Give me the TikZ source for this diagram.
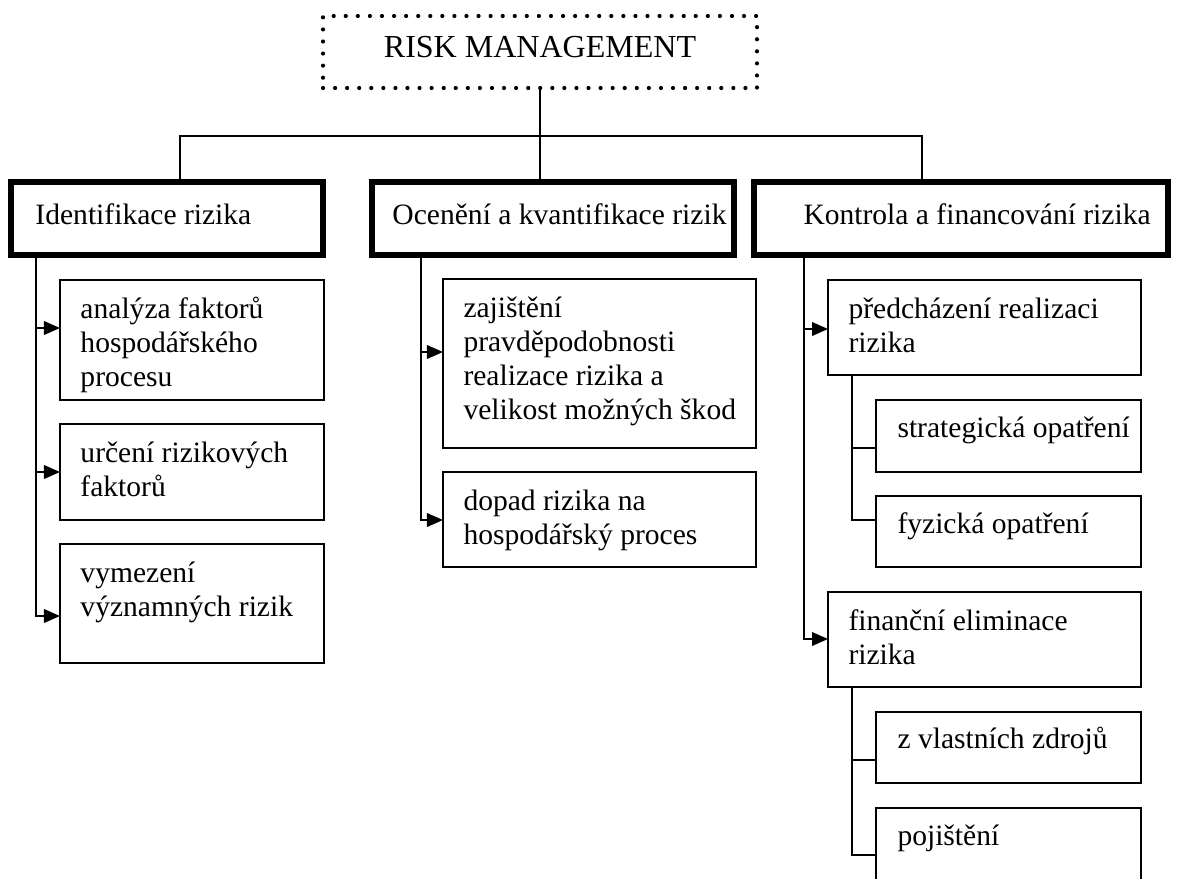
\documentclass[tikz,border=0pt]{standalone}
\usepackage{fontspec}
\setmainfont{Liberation Serif}
\usetikzlibrary{arrows.meta}
\tikzset{
  wh/.style 2 args={minimum width=#1*0.406pt, minimum height=#2*0.406pt},
  topbox/.style={draw, line width=1.7pt, dash pattern=on 0pt off 4.9pt, line cap=round, inner sep=0pt, outer sep=0pt, anchor=north west},
  headbox/.style={draw, line width=2.4pt, inner sep=0pt, outer sep=0pt, anchor=north west},
  itembox/.style={draw, line width=0.9pt, inner sep=0pt, outer sep=0pt, anchor=north west},
  txt/.style={anchor=base west, align=left, inner sep=0pt, font=\fontsize{12pt}{13.8pt}\selectfont},
  wire/.style={line width=0.8pt},
  feed/.style={wire, -{Triangle[length=6.5pt, width=5.5pt]}},
}
\begin{document}
\begin{tikzpicture}[x=0.406pt, y=-0.406pt]
\useasboundingbox (0,0) rectangle (1179,878);
% top
\node[topbox, wh={434}{72}] (risk) at (323,16) {};
\node[txt, anchor=base, font=\fontsize{13pt}{15pt}\selectfont] (riskt) at (540,58) {RISK MANAGEMENT};
% headings
\node[headbox, wh={312}{73}] (ident) at (11,182) {};
\node[txt] (identt) at (35,224) {Identifikace rizika};
\node[headbox, wh={362}{73}] (ocen) at (372,182) {};
\node[txt] (ocent) at (392,224) {Ocenění a kvantifikace rizik};
\node[headbox, wh={414}{73}] (kontr) at (754,182) {};
\node[txt] (kontrt) at (803,224) {Kontrola a financování rizika};
% column 1 (text placed at baseline of last line)
\node[itembox, wh={264}{120}] (ana) at (60,280) {};
\node[txt] (anat) at (80,386) {analýza faktorů\\hospodářského\\procesu};
\node[itembox, wh={264}{96}] (urc) at (60,424) {};
\node[txt] (urct) at (80,496) {určení rizikových\\faktorů};
\node[itembox, wh={264}{119}] (vym) at (60,544) {};
\node[txt] (vymt) at (80,616) {vymezení\\významných rizik};
% column 2
\node[itembox, wh={313}{169}] (zaj) at (443,279) {};
\node[txt] (zajt) at (463,419) {zajištění\\pravděpodobnosti\\realizace rizika a\\velikost možných škod};
\node[itembox, wh={313}{95}] (dop) at (443,472) {};
\node[txt] (dopt) at (463,544) {dopad rizika na\\hospodářský proces};
% column 3
\node[itembox, wh={313}{95}] (pred) at (828,280) {};
\node[txt] (predt) at (848,352) {předcházení realizaci\\rizika};
\node[itembox, wh={265}{72}] (strat) at (876,400) {};
\node[txt] (stratt) at (897,437) {strategická opatření};
\node[itembox, wh={265}{71}] (fyz) at (876,496) {};
\node[txt] (fyzt) at (897,533) {fyzická opatření};
\node[itembox, wh={313}{95}] (fin) at (828,592) {};
\node[txt] (fint) at (848,664) {finanční eliminace\\rizika};
\node[itembox, wh={265}{71}] (vlast) at (876,712) {};
\node[txt] (vlastt) at (897,748) {z vlastních zdrojů};
\node[itembox, wh={265}{80}] (poj) at (876,808) {};
\node[txt] (pojt) at (897,845) {pojištění};
% bus
\coordinate (busL) at (180,136);
\coordinate (busR) at (922,136);
\draw[wire] (risk.south) -- (risk.south |- ocen.north);
\draw[wire] (ident.north -| busL) -- (busL) -- (busR) -- (kontr.north -| busR);
% taps
\coordinate (ta1) at (36,328);
\coordinate (ta2) at (36,472);
\coordinate (ta3) at (36,616);
\coordinate (tb1) at (421,352);
\coordinate (tb2) at (421,520);
\coordinate (tc1) at (804,329);
\coordinate (tc2) at (804,639);
\coordinate (td1) at (852,448);
\coordinate (td2) at (852,520);
\coordinate (te1) at (852,760);
\coordinate (te2) at (852,855);
\draw[feed] (ident.south -| ta3) -- (ta3) -- (ta3 -| vym.west);
\draw[feed] (ocen.south -| tb2) -- (tb2) -- (tb2 -| dop.west);
\draw[feed] (kontr.south -| tc2) -- (tc2) -- (tc2 -| fin.west);
\draw[wire] (pred.south -| td2) -- (td2) -- (td2 -| fyz.west);
\draw[wire] (fin.south -| te2) -- (te2) -- (te2 -| poj.west);
\foreach \t/\b in {ta1/ana, ta2/urc, tb1/zaj, tc1/pred}
  \draw[feed] (\t) -- (\t -| \b.west);
\foreach \t/\b in {td1/strat, te1/vlast}
  \draw[wire] (\t) -- (\t -| \b.west);
\end{tikzpicture}
\end{document}
